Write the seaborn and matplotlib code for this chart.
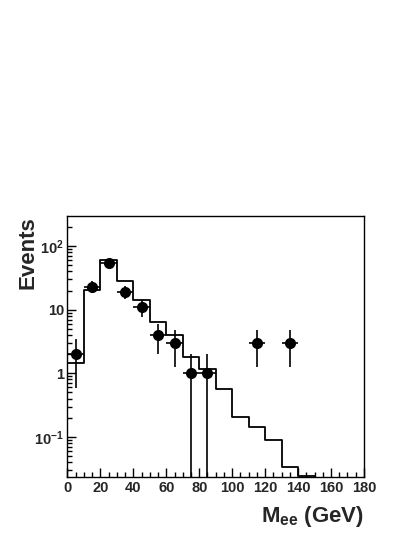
"""
Di-electron invariant mass: data points over the expected histogram (log y).
"""
import matplotlib
matplotlib.use('Agg')  # no display, just write the file
import matplotlib.pyplot as plt
import numpy as np
import pandas as pd
import seaborn as sns
from matplotlib.ticker import FixedLocator, MultipleLocator, LogLocator, FuncFormatter, NullFormatter

sns.set_style('white')
plt.rcParams['font.family'] = ['Liberation Sans', 'DejaVu Sans']
plt.rcParams['font.weight'] = 'bold'
plt.rcParams['mathtext.fontset'] = 'custom'
plt.rcParams['mathtext.rm'] = 'Liberation Sans:bold'
plt.rcParams['mathtext.it'] = 'Liberation Sans:bold'
plt.rcParams['mathtext.bf'] = 'Liberation Sans:bold'

# 10 GeV bins from 0 to 180
bin_edges = list(range(0, 190, 10))
bin_centers = np.array(bin_edges[:-1]) + 5

# expected events per bin (histogram)
mc_events = [1.47, 20.7, 60, 28, 14.4, 6.5, 4.0, 1.83, 1.16, 0.56,
             0.206, 0.143, 0.0885, 0.0335, 0.0242, 0, 0, 0]

# observed events per bin (points)
data_events = [2, 23, 55, 19, 11, 4, 3, 1, 1, 0, 0, 3, 0, 3, 0, 0, 0, 0]

y_ticks = [0.1, 1, 10, 100]
x_ticks = [0, 20, 40, 60, 80, 100, 120, 140, 160, 180]


def _log_label(v, pos):
    e = int(round(np.log10(v)))
    if e == 0:
        return '1'
    if e == 1:
        return '10'
    return r'$10^{%d}$' % e


mc = pd.DataFrame({'mass': bin_centers, 'events': mc_events})
obs = pd.DataFrame({'mass': bin_centers, 'events': np.array(data_events, dtype=float)})
obs = obs[obs['events'] > 0]

fig = plt.figure(figsize=(4.14, 5.36), dpi=100)
ax = fig.add_axes([0.163, 0.110, 0.716, 0.487])

sns.histplot(data=mc, x='mass', weights='events', bins=bin_edges, element='step',
             fill=False, color='black', linewidth=1.3, ax=ax)

ax.errorbar(obs['mass'], obs['events'], xerr=5, yerr=np.sqrt(obs['events']),
            fmt='none', ecolor='black', elinewidth=1.2, capsize=0, zorder=3)
sns.scatterplot(data=obs, x='mass', y='events', color='black', s=64,
                edgecolor='black', linewidth=0, zorder=4, ax=ax)

ax.set_yscale('log')
ax.set_xlim(0, 180)
ax.set_ylim(0.0233, 298)

ax.xaxis.set_major_locator(FixedLocator(x_ticks))
ax.xaxis.set_minor_locator(MultipleLocator(5))
ax.yaxis.set_major_locator(FixedLocator(y_ticks))
ax.yaxis.set_major_formatter(FuncFormatter(_log_label))
ax.yaxis.set_minor_locator(LogLocator(base=10, subs=np.arange(2, 10), numticks=20))
ax.yaxis.set_minor_formatter(NullFormatter())

ax.tick_params(which='both', direction='in', bottom=True, left=True,
               top=False, right=False, color='black', width=1)
ax.tick_params(which='major', length=6.5, labelsize=10.5)
ax.tick_params(which='minor', length=3.6)
ax.tick_params(axis='x', which='major', pad=2.8)
ax.tick_params(axis='y', which='major', pad=2.5)
for lbl in ax.get_xticklabels() + ax.get_yticklabels():
    lbl.set_fontweight('bold')

for s in ax.spines.values():
    s.set_color('black')
    s.set_linewidth(1)

ax.set_ylabel('Events', fontsize=16, fontweight='bold', loc='top')
ax.yaxis.set_label_coords(-0.099, 1.0)
ax.set_xlabel(r'$M_{ee}$ (GeV)', fontsize=16, fontweight='bold', loc='right')
ax.xaxis.set_label_coords(1.0, -0.102)

fig.savefig('out.png', dpi=100)
